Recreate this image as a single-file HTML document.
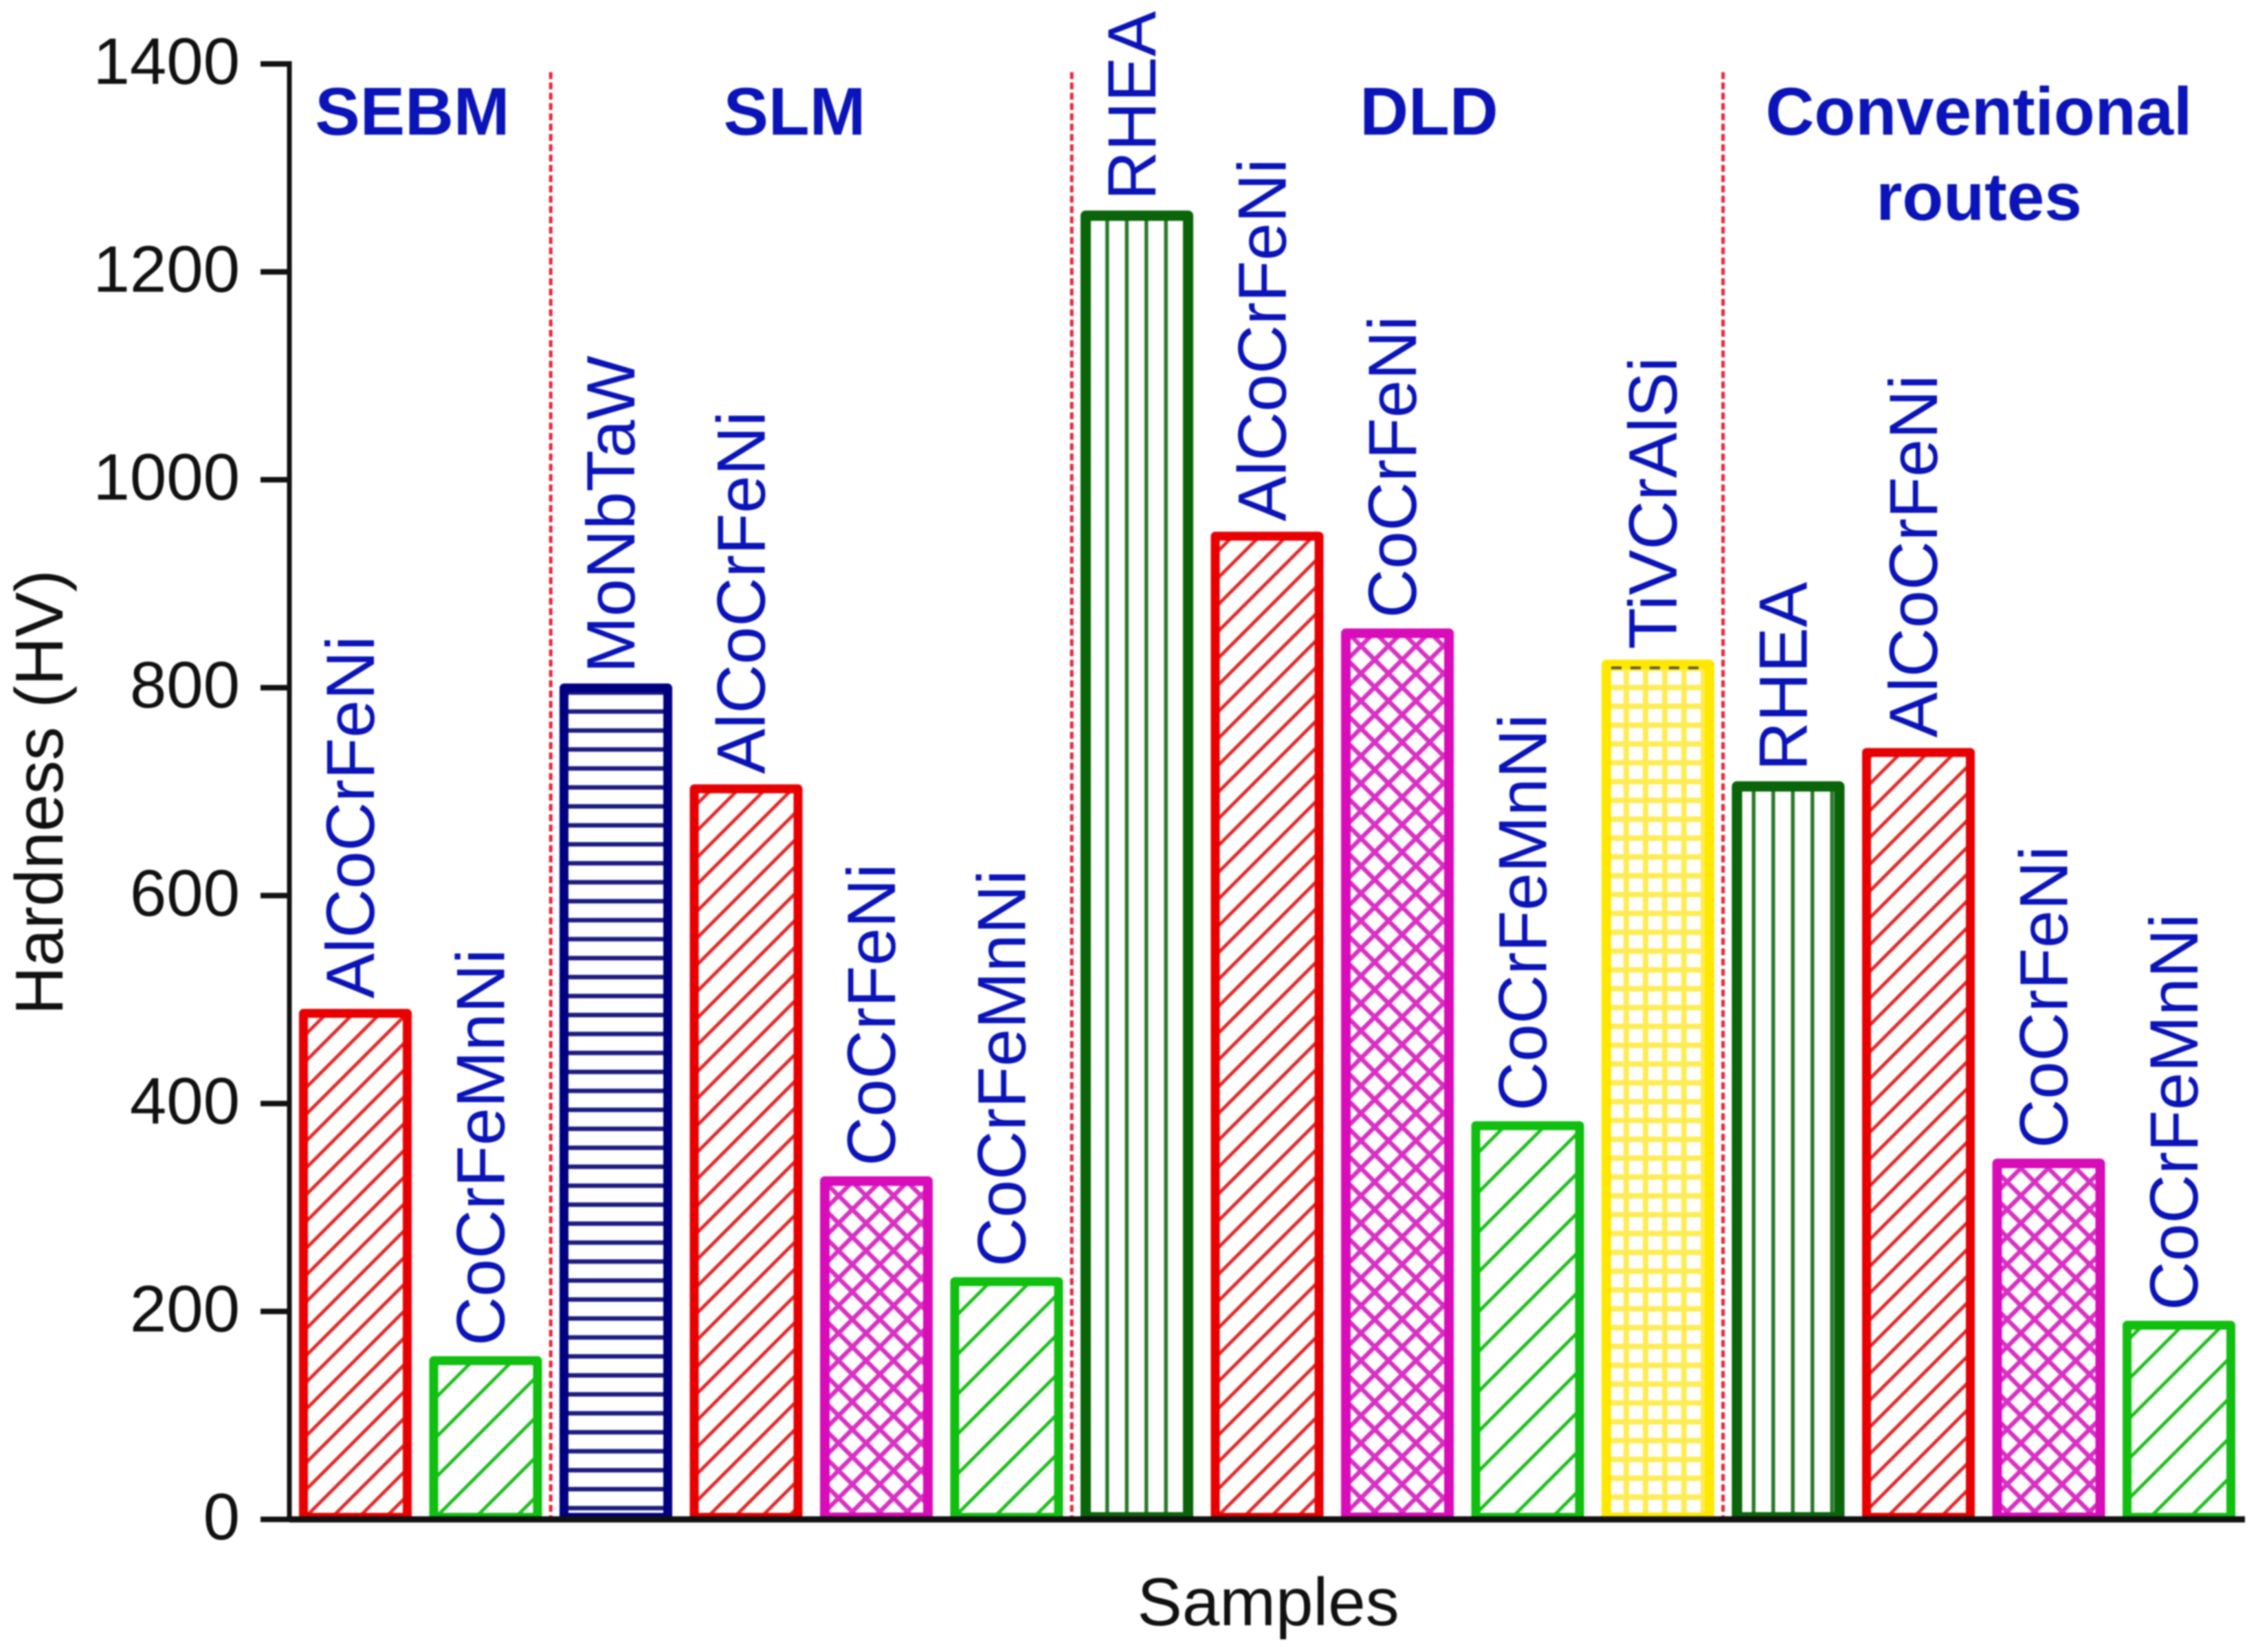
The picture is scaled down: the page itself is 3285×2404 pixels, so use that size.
<!DOCTYPE html>
<html lang="en">
<head>
<meta charset="utf-8">
<title>Hardness of alloy samples by processing route</title>
<style>
  html, body { margin: 0; padding: 0; background: #fff; }
  svg { display: block; font-family: "Liberation Sans", sans-serif; filter: blur(1px); }
</style>
</head>
<body>
<svg id="chart" xmlns="http://www.w3.org/2000/svg" width="3285" height="2404" viewBox="0 0 3285 2404">
  <defs>
    <pattern id="hatch-diag-fine" patternUnits="userSpaceOnUse" width="39" height="39">
      <path d="M-5 5L5 -5M0 39L39 0M34 44L44 34" stroke="#e02c2c" stroke-width="5" fill="none"/>
    </pattern>
    <pattern id="hatch-diag-wide" patternUnits="userSpaceOnUse" width="58" height="58">
      <path d="M-5 5L5 -5M0 58L58 0M53 63L63 53" stroke="#22bf22" stroke-width="5" fill="none"/>
    </pattern>
    <pattern id="hatch-horizontal" patternUnits="userSpaceOnUse" width="28" height="27.6">
      <rect x="0" y="11" width="28" height="6.5" fill="#1c1c80"/>
    </pattern>
    <pattern id="hatch-vertical" patternUnits="userSpaceOnUse" width="28.5" height="28">
      <rect x="12" y="0" width="5.5" height="28" fill="#2a7a2a"/>
    </pattern>
    <pattern id="hatch-grid" patternUnits="userSpaceOnUse" width="28" height="27.4">
      <rect x="10" y="0" width="8" height="27.4" fill="#ffec55"/>
      <rect x="0" y="10" width="28" height="8" fill="#ffec55"/>
    </pattern>
    <pattern id="hatch-cross" patternUnits="userSpaceOnUse" width="40" height="40">
      <path d="M-5 5L5 -5M0 40L40 0M35 45L45 35M-5 35L5 45M0 0L40 40M35 -5L45 5" stroke="#d832c2" stroke-width="6.5" fill="none"/>
    </pattern>
  </defs>
</svg>
<script>
const categories = ["AlCoCrFeNi", "CoCrFeMnNi", "MoNbTaW", "AlCoCrFeNi", "CoCrFeNi", "CoCrFeMnNi", "RHEA", "AlCoCrFeNi", "CoCrFeNi", "CoCrFeMnNi", "TiVCrAlSi", "RHEA", "AlCoCrFeNi", "CoCrFeNi", "CoCrFeMnNi"];
const hardness = [491, 157, 804, 707, 330, 233, 1259, 950, 857, 383, 827, 710, 742, 347, 191];
const yTicks = [0, 200, 400, 600, 800, 1000, 1200, 1400];
const groupNames = ["SEBM", "SLM", "DLD", "Conventional|routes"];
const groupStartIndex = [0, 2, 6, 11];

const looks = {
  AlCoCrFeNi: { stroke: "#e80000", width: 13, pattern: "hatch-diag-fine" },
  CoCrFeMnNi: { stroke: "#10bf10", width: 13, pattern: "hatch-diag-wide" },
  MoNbTaW: { stroke: "#000080", width: 13, pattern: "hatch-horizontal" },
  CoCrFeNi: { stroke: "#d80cb8", width: 14, pattern: "hatch-cross" },
  RHEA: { stroke: "#0a640a", width: 15, pattern: "hatch-vertical" },
  TiVCrAlSi: { stroke: "#ffe800", width: 14, pattern: "hatch-grid" }
};

const svg = document.getElementById("chart");
const NS = "http://www.w3.org/2000/svg";
const BLUE = "#0a14b8";
const INK = "#111111";
const FONT = 99;
const AXIS_X = 421, BASE_Y = 2211, TOP_Y = 93;
const BAR_W = 164, BAR_X0 = 435, BAR_STEP = 189.5;
const yMax = yTicks[yTicks.length - 1];

function yScale(v) { return BASE_Y - (v / yMax) * (BASE_Y - TOP_Y); }
function barLeft(i) { return BAR_X0 + i * BAR_STEP; }

function make(tag, attrs, text) {
  const el = document.createElementNS(NS, tag);
  for (const k in attrs) el.setAttribute(k, attrs[k]);
  if (text !== undefined) el.textContent = text;
  svg.appendChild(el);
  return el;
}

/* bars and their rotated labels */
categories.forEach(function (name, i) {
  const look = looks[name];
  const left = barLeft(i);
  const top = yScale(hardness[i]);
  const sw = look.width;
  const bar = make("rect", {
    x: left + sw / 2,
    y: top + sw / 2,
    width: BAR_W - sw,
    height: BASE_Y - 3 - top - sw / 2,
    fill: "url(#" + look.pattern + ")",
    stroke: look.stroke,
    "stroke-width": sw,
    "stroke-linejoin": "round"
  });
  
  

  if (name === "TiVCrAlSi") {
    const dash = make("line", {
      x1: left + sw,
      x2: left + BAR_W - sw,
      y1: top + 12,
      y2: top + 12,
      stroke: "#5a5a30",
      "stroke-width": 4,
      "stroke-dasharray": "15 13"
    });
    
    
  }

  const bx = left + BAR_W / 2 + 27;
  const by = top - 15;
  const label = make("text", {
    x: 0,
    y: 0,
    transform: "translate(" + bx + " " + by + ") rotate(-90)",
    "font-size": FONT,
    fill: BLUE
  }, name);
  
  
});

/* group separators */
groupStartIndex.slice(1).forEach(function (start, i) {
  const x = (barLeft(start - 1) + BAR_W + barLeft(start)) / 2;
  const sep = make("line", {
    x1: x,
    x2: x,
    y1: 105,
    y2: BASE_Y,
    stroke: "#e8263a",
    "stroke-width": 5,
    "stroke-dasharray": "10 5"
  });
  
  
});

/* group titles */
const groupCentres = [600, 1156, 2079, 2879];
groupNames.forEach(function (g, i) {
  g.split("|").forEach(function (line, j) {
    const t = make("text", {
      x: groupCentres[i],
      y: 196 + j * 124,
      "text-anchor": "middle",
      "font-size": 98,
      "font-weight": "bold",
      fill: BLUE
    }, line);
    
    
  });
});

/* axes */
const yAxis = make("line", { x1: AXIS_X, x2: AXIS_X, y1: TOP_Y - 4, y2: BASE_Y + 4, stroke: INK, "stroke-width": 7 });



const xAxis = make("line", { x1: AXIS_X, x2: 3266, y1: BASE_Y, y2: BASE_Y, stroke: INK, "stroke-width": 9 });



yTicks.forEach(function (v) {
  const y = yScale(v);
  const tick = make("line", { x1: 379, x2: AXIS_X, y1: y, y2: y, stroke: INK, "stroke-width": 8 });
  
  
  const lab = make("text", { x: 349, y: y + 29, "text-anchor": "end", "font-size": 96, fill: INK }, String(v));
  
  
});

const yTitle = make("text", {
  x: 0,
  y: 0,
  transform: "translate(91 1153) rotate(-90)",
  "text-anchor": "middle",
  "font-size": 98,
  fill: INK
}, "Hardness (HV)");



const xTitle = make("text", {
  x: 1845,
  y: 2365,
  "text-anchor": "middle",
  "font-size": 98,
  fill: INK
}, "Samples");


</script>
</body>
</html>
